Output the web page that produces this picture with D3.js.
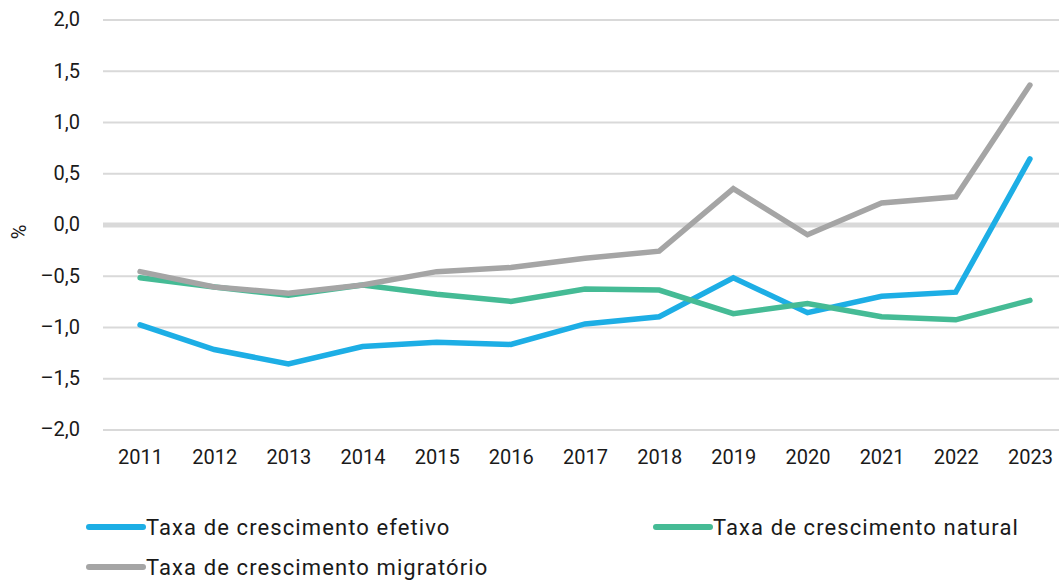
<!DOCTYPE html>
<html>
<head>
<meta charset="utf-8">
<script src="https://cdn.jsdelivr.net/npm/d3@7"></script>
<style>
  body { margin: 0; background: #fff; }
  svg { display: block; }
  svg text { font-family: Roboto, "Noto Sans", sans-serif; fill: #1a1a1a; }
  .tick text { font-size: 20px; }
  .legend text { font-size: 22px; }
</style>
</head>
<body>
<div class="line-chart-container"></div>
<script>
const years = [2011, 2012, 2013, 2014, 2015, 2016, 2017, 2018, 2019, 2020, 2021, 2022, 2023];
const efetivo = [-0.98, -1.22, -1.36, -1.19, -1.15, -1.17, -0.97, -0.90, -0.52, -0.86, -0.70, -0.66, 0.64];
const natural = [-0.52, -0.61, -0.69, -0.59, -0.68, -0.75, -0.63, -0.64, -0.87, -0.77, -0.90, -0.93, -0.74];
const migratorio = [-0.46, -0.61, -0.67, -0.59, -0.46, -0.42, -0.33, -0.26, 0.35, -0.10, 0.21, 0.27, 1.36];
const yTicks = [-2.0, -1.5, -1.0, -0.5, 0.0, 0.5, 1.0, 1.5, 2.0];
const seriesNames = ['Taxa de crescimento efetivo', 'Taxa de crescimento natural', 'Taxa de crescimento migratório'];
const seriesColors = ['#1daee5', '#45bb95', '#a5a5a5'];

const series = [
    {name: seriesNames[0], color: seriesColors[0], values: efetivo},
    {name: seriesNames[1], color: seriesColors[1], values: natural},
    {name: seriesNames[2], color: seriesColors[2], values: migratorio}
];

const ptFormat = d3.formatLocale({decimal: ',', thousands: '.', grouping: [3], currency: ['', ' €'], minus: '–'}).format('.1f');

const svg_width = 1059;
const svg_height = 581;
const margin = {top: 19, left: 103};
const plot_right = 1067;
const plot_bottom = 429.5;

const svg = d3.select('.line-chart-container')
              .append('svg')
              .attr('width', svg_width).attr('height', svg_height);

const xScale = d3.scalePoint().domain(years).range([margin.left, plot_right]).padding(0.5);
const yScale = d3.scaleLinear().domain([-2, 2]).range([plot_bottom, margin.top + 0.5]);

// grelha
const yAxis = d3.axisLeft(yScale)
                .tickValues(yTicks)
                .tickFormat(ptFormat)
                .tickSizeInner(-(plot_right - margin.left))
                .tickSizeOuter(0)
                .tickPadding(23);
const yAxisDraw = svg.append('g').attr('class', 'y axis')
                     .attr('transform', `translate(${margin.left},0)`)
                     .call(yAxis)
                     .attr('font-family', null).attr('font-size', null);
yAxisDraw.select('.domain').remove();
yAxisDraw.selectAll('.tick line')
         .style('stroke', '#d9d9d9')
         .style('stroke-width', d => d === 0 ? 5 : 2);

const xAxis = d3.axisBottom(xScale).tickSize(0).tickPadding(20).tickFormat(d => d);
const xAxisDraw = svg.append('g').attr('class', 'x axis')
                     .attr('transform', `translate(0,${plot_bottom})`)
                     .call(xAxis)
                     .attr('font-family', null).attr('font-size', null);
xAxisDraw.select('.domain').remove();

// titulo do eixo
svg.append('text')
   .attr('transform', 'translate(26,232) rotate(-90)')
   .attr('text-anchor', 'middle')
   .style('font-size', '20px')
   .text('%');

const line = d3.line()
               .x((d, i) => xScale(years[i]))
               .y(d => yScale(d));

svg.selectAll('.series')
   .data(series)
   .enter()
   .append('path')
   .attr('class', 'series')
   .attr('d', d => line(d.values))
   .style('fill', 'none')
   .style('stroke', d => d.color)
   .style('stroke-width', 5.5)
   .style('stroke-linecap', 'round')
   .style('stroke-linejoin', 'miter');

// legenda
const legendPos = [[87, 527], [654, 527], [87, 567]];
const legend = svg.append('g').attr('class', 'legend')
                  .selectAll('g')
                  .data(series)
                  .enter()
                  .append('g')
                  .attr('transform', (d, i) => `translate(${legendPos[i][0]},${legendPos[i][1]})`);
legend.append('line')
      .attr('x1', 2).attr('x2', 56).attr('y1', 0).attr('y2', 0)
      .style('stroke', d => d.color)
      .style('stroke-width', 6)
      .style('stroke-linecap', 'round');
legend.append('text')
      .attr('x', 59).attr('y', 8)
      .style('letter-spacing', '1.1px')
      .text(d => d.name);
</script>
</body>
</html>
